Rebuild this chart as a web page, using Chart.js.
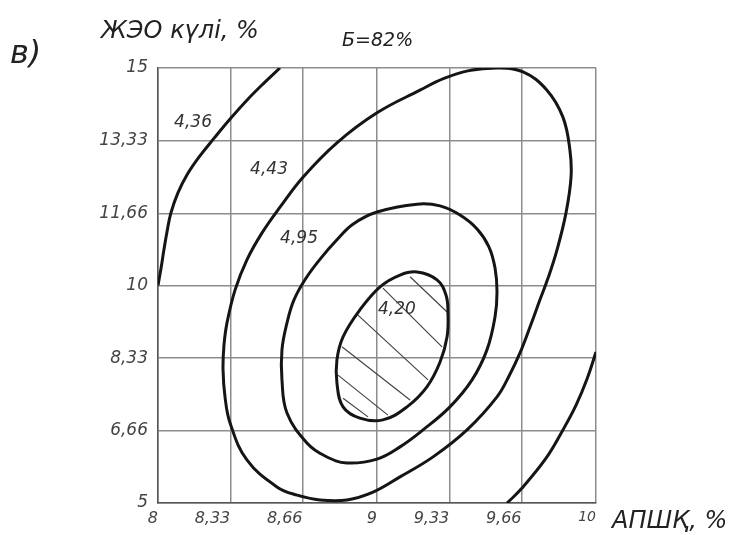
<!DOCTYPE html>
<html>
<head>
<meta charset="utf-8">
<script src="https://cdn.jsdelivr.net/npm/chart.js@4.4.1/dist/chart.umd.min.js"></script>
<style>
  html, body { margin: 0; padding: 0; background: #fff; }
  #wrap { width: 731px; height: 535px; }
</style>
</head>
<body>
<div id="wrap"><canvas id="chart" width="731" height="535"></canvas></div>
<script>
// Оси
const xTicks = [8, 8.33, 8.66, 9, 9.33, 9.66, 10];
const xTickLabels = ['8', '8,33', '8,66', '9', '9,33', '9,66', '10'];
const yTicks = [5, 6.66, 8.33, 10, 11.66, 13.33, 15];
const yTickLabels = ['5', '6,66', '8,33', '10', '11,66', '13,33', '15'];

// Изолинии
// открытые кривые
const c436X = [8.0, 8.014, 8.027, 8.041, 8.059, 8.091, 8.132, 8.187, 8.260, 8.333, 8.406, 8.479, 8.557];
const c436Y = [10.0, 10.40, 10.82, 11.23, 11.67, 12.13, 12.54, 12.95, 13.41, 13.85, 14.26, 14.63, 15.0];

const cRightX = [10.0, 9.959, 9.909, 9.849, 9.772, 9.658, 9.594];
const cRightY = [8.47, 7.85, 7.25, 6.68, 6.03, 5.32, 5.0];

// замкнутые кривые (без повтора первой точки)
const c443X = [9.548, 9.667, 9.776, 9.849, 9.881, 9.886, 9.863, 9.822, 9.781, 9.744, 9.699, 9.653, 9.603, 9.548, 9.411, 9.256, 9.105, 8.982, 8.863, 8.740, 8.635, 8.543, 8.406, 8.329, 8.306, 8.297, 8.301, 8.315, 8.352, 8.406, 8.475, 8.557, 8.662, 8.817, 9.000, 9.196, 9.306, 9.420];
const c443Y = [15.0, 14.91, 14.49, 13.87, 13.11, 12.49, 11.67, 10.82, 10.17, 9.67, 9.05, 8.45, 7.92, 7.44, 6.68, 6.06, 5.60, 5.25, 5.07, 5.07, 5.18, 5.37, 5.99, 6.84, 7.44, 8.06, 8.61, 9.14, 9.90, 10.59, 11.21, 11.80, 12.49, 13.28, 13.97, 14.49, 14.76, 14.94];

const c495X = [9.183, 9.288, 9.379, 9.457, 9.511, 9.539, 9.548, 9.539, 9.502, 9.434, 9.333, 9.210, 9.105, 9.000, 8.863, 8.763, 8.680, 8.589, 8.566, 8.566, 8.589, 8.621, 8.676, 8.744, 8.817, 8.890, 9.000];
const c495Y = [11.87, 11.83, 11.62, 11.30, 10.89, 10.40, 9.85, 9.28, 8.52, 7.83, 7.21, 6.68, 6.29, 6.01, 5.92, 6.08, 6.38, 7.07, 7.83, 8.52, 9.14, 9.67, 10.17, 10.63, 11.05, 11.41, 11.69];

const c420X = [9.183, 9.274, 9.315, 9.324, 9.320, 9.288, 9.228, 9.137, 9.027, 8.922, 8.845, 8.817, 8.817, 8.845, 8.922, 9.014, 9.105];
const c420Y = [10.31, 10.13, 9.78, 9.37, 8.82, 8.24, 7.67, 7.21, 6.91, 6.95, 7.21, 7.76, 8.29, 8.82, 9.44, 9.97, 10.24];

// Штриховка внутри 4,20 (начало и конец каждого штриха)
const hatchX1 = [9.151, 9.027, 8.913, 8.840, 8.822, 8.845];
const hatchY1 = [10.20, 9.94, 9.32, 8.59, 7.94, 7.41];
const hatchX2 = [9.320, 9.297, 9.233, 9.151, 9.050, 8.959];
const hatchY2 = [9.39, 8.59, 7.83, 7.37, 7.02, 6.98];

// Подписи изолиний
const levelLabels = ['4,36', '4,43', '4,95', '4,20'];
const levelX = [8.160, 8.507, 8.644, 9.091];
const levelY = [13.74, 12.66, 11.09, 9.44];

const toPoints = (xs, ys) => xs.map((x, i) => ({ x: x, y: ys[i] }));

// замкнутая кривая: добавляем соседей по краям и прячем крайние отрезки,
// чтобы сплайн сходился без излома
function closedPoints(xs, ys) {
    const pts = toPoints(xs, ys);
    const n = pts.length;
    return [pts[n - 1]].concat(pts, [pts[0], pts[1]]);
}

const CURVE = '#151515';

function curve(data, closed) {
    const last = data.length - 2;
    return {
        data: data,
        showLine: true,
        borderColor: CURVE,
        borderWidth: 3,
        pointRadius: 0,
        tension: 0.4,
        fill: false,
        segment: closed ? {
            borderColor: c => (c.p0DataIndex === 0 || c.p0DataIndex === last) ? 'rgba(0,0,0,0)' : CURVE
        } : undefined
    };
}

const hatchPoints = [];
hatchX1.forEach((x, i) => {
    hatchPoints.push({ x: x, y: hatchY1[i] });
    hatchPoints.push({ x: hatchX2[i], y: hatchY2[i] });
    hatchPoints.push({ x: null, y: null });
});

const FONT = '"DejaVu Sans", sans-serif';

// Тексты на рисунке
const textPlugin = {
    id: 'texts',
    afterDatasetsDraw(chart) {
        const ctx = chart.ctx;
        const xs = chart.scales.x, ys = chart.scales.y;
        ctx.save();
        ctx.fillStyle = '#333';
        ctx.font = 'italic 17px ' + FONT;
        ctx.textAlign = 'center';
        ctx.textBaseline = 'middle';
        levelLabels.forEach((t, i) => {
            ctx.fillText(t, xs.getPixelForValue(levelX[i]), ys.getPixelForValue(levelY[i]));
        });

        ctx.fillStyle = '#222';
        ctx.textAlign = 'left';
        ctx.textBaseline = 'alphabetic';
        ctx.font = 'italic 24px ' + FONT;
        ctx.fillText('ЖЭО күлі, %', 101, 38);
        ctx.font = 'italic 19px ' + FONT;
        ctx.fillText('Б=82%', 342, 46);
        ctx.font = 'italic 32px ' + FONT;
        ctx.fillText('в)', 10, 63);
        ctx.font = 'italic 24px ' + FONT;
        ctx.fillText('АПШҚ, %', 612, 528);
        ctx.restore();
    }
};

new Chart(document.getElementById('chart'), {
    type: 'scatter',
    data: {
        datasets: [
            curve(toPoints(c436X, c436Y), false),
            curve(closedPoints(c443X, c443Y), true),
            curve(closedPoints(c495X, c495Y), true),
            curve(closedPoints(c420X, c420Y), true),
            curve(toPoints(cRightX, cRightY), false),
            {
                data: hatchPoints,
                showLine: true,
                spanGaps: false,
                borderColor: '#444',
                borderWidth: 1.2,
                pointRadius: 0,
                tension: 0
            }
        ]
    },
    options: {
        responsive: false,
        animation: false,
        layout: { padding: { left: 0, top: 68, right: 135, bottom: 0 } },
        plugins: { legend: { display: false }, tooltip: { enabled: false } },
        scales: {
            x: {
                type: 'linear',
                min: 8,
                max: 10,
                afterBuildTicks: s => { s.ticks = xTicks.map(v => ({ value: v })); },
                afterFit: s => { s.height = 32; },
                grid: { color: '#8c8c8c', lineWidth: 1.5, drawTicks: false },
                border: { color: '#555', width: 1.5 },
                ticks: {
                    autoSkip: false,
                    maxRotation: 0,
                    align: 'end',
                    padding: 6,
                    color: '#444',
                    font: c => ({ family: FONT, style: 'italic', size: c.index === 6 ? 14 : 16 }),
                    callback: (v, i) => xTickLabels[i]
                }
            },
            y: {
                type: 'linear',
                min: 5,
                max: 15,
                afterBuildTicks: s => { s.ticks = yTicks.map(v => ({ value: v })); },
                afterFit: s => { s.width = 158; },
                grid: { color: '#8c8c8c', lineWidth: 1.5, drawTicks: false },
                border: { color: '#555', width: 1.5 },
                ticks: {
                    autoSkip: false,
                    padding: 10,
                    color: '#444',
                    font: { family: FONT, style: 'italic', size: 17 },
                    callback: (v, i) => yTickLabels[i]
                }
            }
        }
    },
    plugins: [textPlugin]
});
</script>
</body>
</html>
